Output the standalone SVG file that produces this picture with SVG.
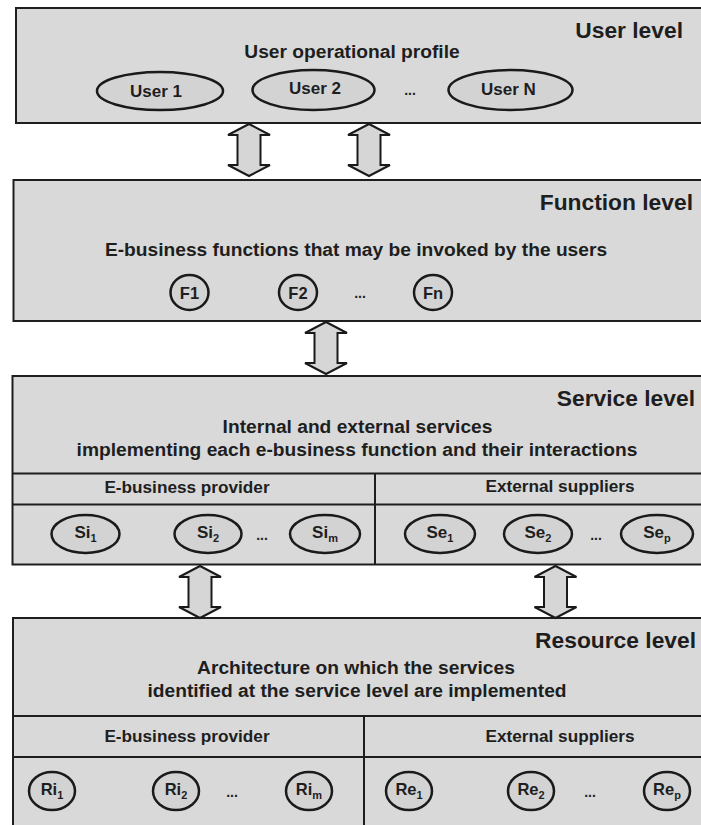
<svg xmlns="http://www.w3.org/2000/svg" xmlns:xlink="http://www.w3.org/1999/xlink" width="701" height="825" viewBox="0 0 701 825">
<style>
.box{fill:#d9d9d9;stroke:#1e1e1e;stroke-width:2}
.ln{fill:none;stroke:#1e1e1e;stroke-width:2}
.ell{fill:#d3d3d3;stroke:#1a1a1a;stroke-width:2.5}
.arr{fill:#d6d6d6;stroke:#1a1a1a;stroke-width:2;stroke-linejoin:miter}
text{font-family:"Liberation Sans",Arial,Helvetica,sans-serif;font-weight:bold;fill:#1e1e1e}
.h{font-size:22.8px;text-anchor:end}
.b{font-size:19.2px;text-anchor:middle}
.s{font-size:17.2px;text-anchor:middle}
.n{font-size:17px;text-anchor:middle}
.f{font-size:16.5px;text-anchor:middle}
.sub{font-size:11px}
.dots{font-size:14px;text-anchor:middle}
</style>
<defs>
<path id="dbl" d="M0,0 L21,11 L11.5,11 L11.5,41 L21,41 L0,52 L-21,41 L-11.5,41 L-11.5,11 L-21,11 Z"/>
</defs>
<rect width="701" height="825" fill="#ffffff"/>

<g id="user-level">
<rect class="box" x="16" y="8" width="700" height="115"/>
<text class="h" x="683" y="38">User level</text>
<text class="b" x="352" y="58">User operational profile</text>
</g>
<g id="user1"><ellipse class="ell" cx="160" cy="91" rx="63" ry="19"/><text class="n" x="156" y="97">User 1</text></g>
<g id="user2"><ellipse class="ell" cx="313.5" cy="90" rx="61" ry="20"/><text class="n" x="315" y="94">User 2</text></g>
<text class="dots" x="410" y="95">...</text>
<g id="userN"><ellipse class="ell" cx="510.5" cy="90" rx="62" ry="20"/><text class="n" x="508.5" y="95">User N</text></g>

<g id="function-level">
<rect class="box" x="13.5" y="180" width="700" height="141"/>
<text class="h" x="693" y="210">Function level</text>
<text class="b" x="356" y="256">E-business functions that may be invoked by the users</text>
</g>
<g id="F1"><ellipse class="ell" cx="189.5" cy="292.5" rx="19" ry="17.5"/><text class="f" x="189.5" y="298.5">F1</text></g>
<g id="F2"><ellipse class="ell" cx="298" cy="292.5" rx="19" ry="17.5"/><text class="f" x="298" y="298.5">F2</text></g>
<text class="dots" x="360" y="298">...</text>
<g id="Fn"><ellipse class="ell" cx="433" cy="292.5" rx="19" ry="17.5"/><text class="f" x="433" y="298.5">Fn</text></g>

<g id="service-level">
<rect class="box" x="12.5" y="376" width="700" height="188.5"/>
<line class="ln" x1="12.5" y1="473.5" x2="712" y2="473.5"/>
<line class="ln" x1="12.5" y1="504.5" x2="712" y2="504.5"/>
<line class="ln" x1="375" y1="473.5" x2="375" y2="564.5"/>
<text class="h" x="695" y="406">Service level</text>
<text class="b" x="357.5" y="433">Internal and external services</text>
<text class="b" x="357" y="456">implementing each e-business function and their interactions</text>
<text class="s" x="187" y="493">E-business provider</text>
<text class="s" x="560" y="492">External suppliers</text>
</g>
<g id="Si1"><ellipse class="ell" cx="85.5" cy="534" rx="34" ry="19"/><text class="n" x="85.5" y="538">Si<tspan class="sub" dy="4">1</tspan></text></g>
<g id="Si2"><ellipse class="ell" cx="208" cy="534" rx="33.5" ry="19"/><text class="n" x="208" y="538">Si<tspan class="sub" dy="4">2</tspan></text></g>
<text class="dots" x="262" y="540">...</text>
<g id="Sim"><ellipse class="ell" cx="325" cy="534" rx="35" ry="19"/><text class="n" x="325" y="538">Si<tspan class="sub" dy="4">m</tspan></text></g>
<g id="Se1"><ellipse class="ell" cx="440" cy="534" rx="35" ry="19"/><text class="n" x="440" y="538">Se<tspan class="sub" dy="4">1</tspan></text></g>
<g id="Se2"><ellipse class="ell" cx="538" cy="534" rx="34" ry="19"/><text class="n" x="538" y="538">Se<tspan class="sub" dy="4">2</tspan></text></g>
<text class="dots" x="596" y="540">...</text>
<g id="Sep"><ellipse class="ell" cx="657" cy="534" rx="36" ry="19"/><text class="n" x="657" y="538">Se<tspan class="sub" dy="4">p</tspan></text></g>

<g id="resource-level">
<rect class="box" x="13" y="618" width="700" height="220"/>
<line class="ln" x1="13" y1="716" x2="712" y2="716"/>
<line class="ln" x1="13" y1="757" x2="712" y2="757"/>
<line class="ln" x1="364" y1="716" x2="364" y2="830"/>
<text class="h" x="696" y="648">Resource level</text>
<text class="b" x="356" y="674">Architecture on which the services</text>
<text class="b" x="357" y="697">identified at the service level are implemented</text>
<text class="s" x="187" y="742">E-business provider</text>
<text class="s" x="560" y="742">External suppliers</text>
</g>
<g id="Ri1"><ellipse class="ell" cx="52" cy="791" rx="23" ry="19"/><text class="f" x="52" y="795">Ri<tspan class="sub" dy="4">1</tspan></text></g>
<g id="Ri2"><ellipse class="ell" cx="176" cy="791" rx="23" ry="19"/><text class="f" x="176" y="795">Ri<tspan class="sub" dy="4">2</tspan></text></g>
<text class="dots" x="232" y="797">...</text>
<g id="Rim"><ellipse class="ell" cx="309" cy="791" rx="23" ry="19"/><text class="f" x="309" y="795">Ri<tspan class="sub" dy="4">m</tspan></text></g>
<g id="Re1"><ellipse class="ell" cx="409" cy="791" rx="23" ry="19"/><text class="f" x="409" y="795">Re<tspan class="sub" dy="4">1</tspan></text></g>
<g id="Re2"><ellipse class="ell" cx="531" cy="791" rx="23" ry="19"/><text class="f" x="531" y="795">Re<tspan class="sub" dy="4">2</tspan></text></g>
<text class="dots" x="590" y="797">...</text>
<g id="Rep"><ellipse class="ell" cx="667" cy="791" rx="23" ry="19"/><text class="f" x="667" y="795">Re<tspan class="sub" dy="4">p</tspan></text></g>

<g id="connectors">
<use xlink:href="#dbl" class="arr" transform="translate(249,124)"/>
<use xlink:href="#dbl" class="arr" transform="translate(369,124)"/>
<use xlink:href="#dbl" class="arr" transform="translate(326,322)"/>
<use xlink:href="#dbl" class="arr" transform="translate(200,566)"/>
<use xlink:href="#dbl" class="arr" transform="translate(555.5,566)"/>
</g>
</svg>
